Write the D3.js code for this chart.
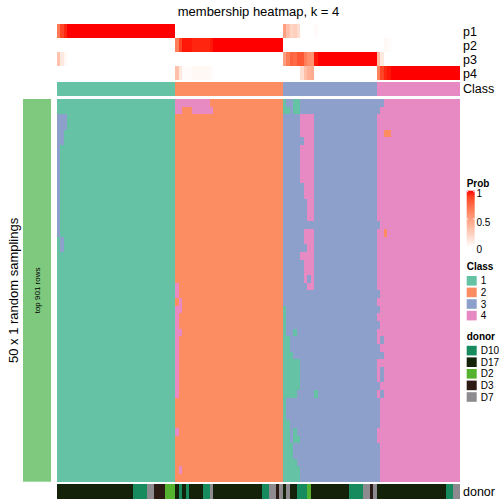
<!DOCTYPE html>
<html><head><meta charset="utf-8">
<script src="https://cdn.jsdelivr.net/npm/d3@7"></script>
<style>body{margin:0;background:#fff}svg{display:block}text{font-family:"Liberation Sans",Arial,Helvetica,sans-serif;fill:#000}</style>
</head><body><svg id="c" width="504" height="504"></svg>
<script>
// ---------------- data ----------------
const nCols = 116, nRows = 50;
const classLabels = ["1","2","3","4"];
const classColors = ["#66C2A5","#FC8D62","#8DA0CB","#E78AC3"];
const classCounts = [34,31,27,24];               // columns per consensus class
const donorLabels = ["D10","D17","D2","D3","D7"];
const donorColors = ["#178A5E","#132209","#55B22F","#2C1A15","#8E8B90"];
const donorRuns = [["D17",22],["D10",4],["D7",2],["D3",3],["D2",3],["D17",1],["D10",1],["D17",1],["D10",1],
  ["D17",4],["D10",2],["D7",1],["D17",14],["D10",2],["D7",2],["D3",1],["D7",1],["D17",1],["D7",1],["D17",2],
  ["D10",3],["D2",1],["D17",11],["D10",4],["D7",2],["D3",1],["D7",1],["D17",20],["D10",2],["D7",2]];
const probRows = ["p1","p2","p3","p4"];
const p1 = [0.68,0.88,0.96,1,1,1,1,1,1,1,1,1,1,1,1,1,1,1,1,1,1,1,1,1,1,1,1,1,1,1,1,1,1,1,
  0,0,0,0,0,0,0,0,0,0,0,0,0,0,0,0,0,0,0,0,0,0,0,0,0,0,0,0,0,0,0,
  0.5,0.34,0.22,0.26,0.18,0,0,0,0,0.02,0,0,0,0,0,0,0,0,0,0,0,0,0,0,0,0,0,
  0,0,0,0,0,0,0,0,0,0,0,0,0,0,0,0,0,0,0,0,0,0,0,0];
const p2 = [0,0,0,0,0,0,0,0,0,0,0,0,0,0,0,0,0,0,0,0,0,0,0,0,0,0,0,0,0,0,0,0,0,0,
  0.66,0.88,0.98,0.98,0.98,0.96,0.96,0.96,0.96,0.96,0.98,1,1,1,1,1,1,1,1,1,1,1,1,1,1,1,1,1,1,1,1,
  0,0,0,0,0,0,0,0,0,0,0,0,0,0,0,0,0,0,0,0,0,0,0,0,0,0,0,
  0,0,0.04,0.02,0,0,0,0,0,0,0,0,0,0,0,0,0,0,0,0,0,0,0,0];
const p3 = [0.32,0.12,0.04,0,0,0,0,0,0,0,0,0,0,0,0,0,0,0,0,0,0,0,0,0,0,0,0,0,0,0,0,0,0,0,
  0,0,0,0,0,0,0,0,0,0,0,0,0,0,0,0,0,0,0,0,0,0,0,0,0,0,0,0,0,0,0,
  0.5,0.66,0.78,0.74,0.82,0.82,0.66,0.58,0.56,0.98,1,1,1,1,1,1,1,1,1,1,1,1,1,1,1,1,1,
  0.36,0.12,0,0,0,0,0,0,0,0,0,0,0,0,0,0,0,0,0,0,0,0,0,0];
const p4 = [0,0,0,0,0,0,0,0,0,0,0,0,0,0,0,0,0,0,0,0,0,0,0,0,0,0,0,0,0,0,0,0,0,0,
  0.34,0.12,0.02,0.02,0.02,0.04,0.04,0.04,0.04,0.04,0.02,0,0,0,0,0,0,0,0,0,0,0,0,0,0,0,0,0,0,0,0,
  0,0,0,0,0,0.18,0.34,0.42,0.44,0,0,0,0,0,0,0,0,0,0,0,0,0,0,0,0,0,0,
  0.64,0.88,0.96,0.98,1,1,1,1,1,1,1,1,1,1,1,1,1,1,1,1,1,1,1,1];
// cells of the sampling heatmap whose class differs from the column's consensus class:
// [firstRow, lastRow, firstCol, lastCol, class]
const deviations = [
  [2,3,0,2,3],[4,5,0,1,3],[6,17,0,0,3],[18,19,1,1,3],
  [0,0,34,43,4],[1,1,34,35,4],[1,1,39,44,4],[24,25,34,34,4],[26,26,35,35,4],[27,27,34,35,4],[28,29,34,34,4],
  [30,30,34,35,4],[31,38,34,34,4],[43,43,34,34,4],[48,48,35,35,4],
  [0,0,65,65,1],[0,1,68,69,1],[1,1,65,66,1],[27,30,65,65,1],[30,30,68,68,1],[31,32,65,66,1],[33,33,65,67,1],
  [34,37,65,69,1],[38,38,65,68,1],[38,38,74,74,1],[39,41,65,65,1],[42,43,65,66,1],[43,44,68,68,1],
  [44,44,65,66,1],[44,44,69,69,1],[45,46,65,67,1],[47,47,65,68,1],[48,49,65,69,1],
  [2,4,70,73,4],[5,5,71,73,4],[6,10,70,73,4],[11,12,71,73,4],[13,15,72,73,4],[17,18,71,73,4],[19,19,72,73,4],
  [20,20,70,73,4],[21,22,71,73,4],[23,23,71,71,4],[23,23,73,73,4],[24,24,72,73,4],
  [0,0,92,93,3],[1,1,92,92,3],[4,4,94,95,2],[17,17,94,94,2],
  [16,16,92,92,3],[25,25,92,92,3],[27,27,92,92,3],[29,29,92,92,3],[31,31,93,93,3],[32,33,92,92,3],
  [33,33,93,93,3],[35,36,93,93,3],[37,37,92,92,3],[38,38,93,93,3],[39,42,92,92,3],[45,49,92,92,3]
];
const titleText = "membership heatmap, k = 4";
const rowTitle = "50 x 1 random samplings";
const sliceLabel = "top 901 rows";

// ---------------- derived structures ----------------
const colClass = [];
classCounts.forEach((n,i)=>{ for(let k=0;k<n;k++) colClass.push(classLabels[i]); });
const colDonor = [];
donorRuns.forEach(([d,n])=>{ for(let k=0;k<n;k++) colDonor.push(d); });
const grid = d3.range(nRows).map(()=>colClass.slice());
deviations.forEach(([r0,r1,c0,c1,cl])=>{
  for(let r=r0;r<=r1;r++) for(let c=c0;c<=c1;c++) grid[r][c] = String(cl);
});
const cells = [];
grid.forEach((row,r)=>row.forEach((v,c)=>cells.push({r,c,v})));
const probData = [];
[p1,p2,p3,p4].forEach((arr,i)=>arr.forEach((v,c)=>probData.push({row:probRows[i],c,v})));

// ---------------- scales ----------------
const svg = d3.select("#c");
const L = 57, R = 460;
const x = d3.scaleBand().domain(d3.range(nCols)).range([L,R]);
const y = d3.scaleBand().domain(d3.range(nRows)).range([99,481.7]);
const yp = d3.scaleBand().domain(probRows).range([24,80.3]);
const classColor = d3.scaleOrdinal().domain(classLabels).range(classColors);
const donorColor = d3.scaleOrdinal().domain(donorLabels).range(donorColors);
const probColor = d3.scaleLinear().domain([0,1]).range(["#ffffff","#ff0000"]).interpolate(d3.interpolateLab);

// title
svg.append("text").attr("x",258.5).attr("y",16).attr("text-anchor","middle")
  .style("font-size","13px").text(titleText);

// probability annotation
svg.append("g").selectAll("rect").data(probData).join("rect")
  .attr("x",d=>x(d.c)).attr("width",x.bandwidth()+0.05)
  .attr("y",d=>yp(d.row)).attr("height",yp.bandwidth()+0.05)
  .attr("fill",d=>probColor(d.v)).attr("shape-rendering","crispEdges");

// class annotation
svg.append("g").selectAll("rect").data(d3.range(nCols)).join("rect")
  .attr("x",c=>x(c)).attr("width",x.bandwidth()+0.05)
  .attr("y",81.7).attr("height",14)
  .attr("fill",c=>classColor(colClass[c])).attr("shape-rendering","crispEdges");

// main heatmap
svg.append("g").selectAll("rect").data(cells).join("rect")
  .attr("x",d=>x(d.c)).attr("width",x.bandwidth()+0.05)
  .attr("y",d=>y(d.r)).attr("height",y.bandwidth()+0.05)
  .attr("fill",d=>classColor(d.v)).attr("shape-rendering","crispEdges");

// donor annotation
svg.append("g").selectAll("rect").data(d3.range(nCols)).join("rect")
  .attr("x",c=>x(c)).attr("width",x.bandwidth()+0.05)
  .attr("y",483.7).attr("height",15.3)
  .attr("fill",c=>donorColor(colDonor[c])).attr("shape-rendering","crispEdges");

// right annotation names
const annoNames = probRows.map(p=>({t:p,y:yp(p)+yp.bandwidth()/2}))
  .concat([{t:"Class",y:88.7},{t:"donor",y:491.5}]);
svg.append("g").selectAll("text").data(annoNames).join("text")
  .attr("x",463).attr("y",d=>d.y).attr("dy","0.36em")
  .style("font-size","12.5px").text(d=>d.t);

// left slice bar
svg.append("rect").attr("x",23).attr("y",99).attr("width",28).attr("height",382.7).attr("fill","#7FC97F");
svg.append("text").attr("transform","translate(37,290.4) rotate(-90)").attr("text-anchor","middle")
  .attr("dy","0.35em").style("font-size","8px").text(sliceLabel);
svg.append("text").attr("transform","translate(13,290.4) rotate(-90)").attr("text-anchor","middle")
  .attr("dy","0.35em").style("font-size","13px").text(rowTitle);

// ---------------- legends ----------------
const lx = 466.7;
const lg = svg.append("g");
lg.append("text").attr("x",lx).attr("y",187).style("font-size","10px").style("font-weight","bold").text("Prob");
const defs = svg.append("defs");
const grad = defs.append("linearGradient").attr("id","pg").attr("x1",0).attr("x2",0).attr("y1",1).attr("y2",0);
d3.range(0,1.0001,0.1).forEach(t=>grad.append("stop").attr("offset",t).attr("stop-color",probColor(t)));
const gy = d3.scaleLinear().domain([0,1]).range([247.5,190.7]);
lg.append("rect").attr("x",lx).attr("y",gy(1)).attr("width",8).attr("height",gy(0)-gy(1)).attr("fill","url(#pg)");
[0,0.5,1].forEach(v=>{
  const yy = gy(v);
  lg.append("line").attr("x1",lx).attr("x2",lx+1.5).attr("y1",yy+ (v===1?1:0)).attr("y2",yy+(v===1?1:0)).attr("stroke","#fff");
  lg.append("line").attr("x1",lx+6.5).attr("x2",lx+8).attr("y1",yy+(v===1?1:0)).attr("y2",yy+(v===1?1:0)).attr("stroke","#fff");
});
const probLab = [{t:"1",y:193},{t:"0.5",y:222},{t:"0",y:249.5}];
lg.selectAll("text.pl").data(probLab).join("text").attr("class","pl")
  .attr("x",476.5).attr("y",d=>d.y).attr("dy","0.36em").style("font-size","10px").text(d=>d.t);

function discreteLegend(title, labels, scale, titleY, firstY){
  const g = svg.append("g");
  g.append("text").attr("x",lx).attr("y",titleY).style("font-size","10px").style("font-weight","bold").text(title);
  const items = g.selectAll("g").data(labels).join("g")
    .attr("transform",(d,i)=>`translate(${lx},${firstY+i*11.6})`);
  items.append("rect").attr("width",10).attr("height",9.6).attr("fill",d=>scale(d));
  items.append("text").attr("x",14).attr("y",4.8).attr("dy","0.36em").style("font-size","10px").text(d=>d);
}
discreteLegend("Class", classLabels, classColor, 270, 276);
discreteLegend("donor", donorLabels, donorColor, 340, 345.8);
</script></body></html>
